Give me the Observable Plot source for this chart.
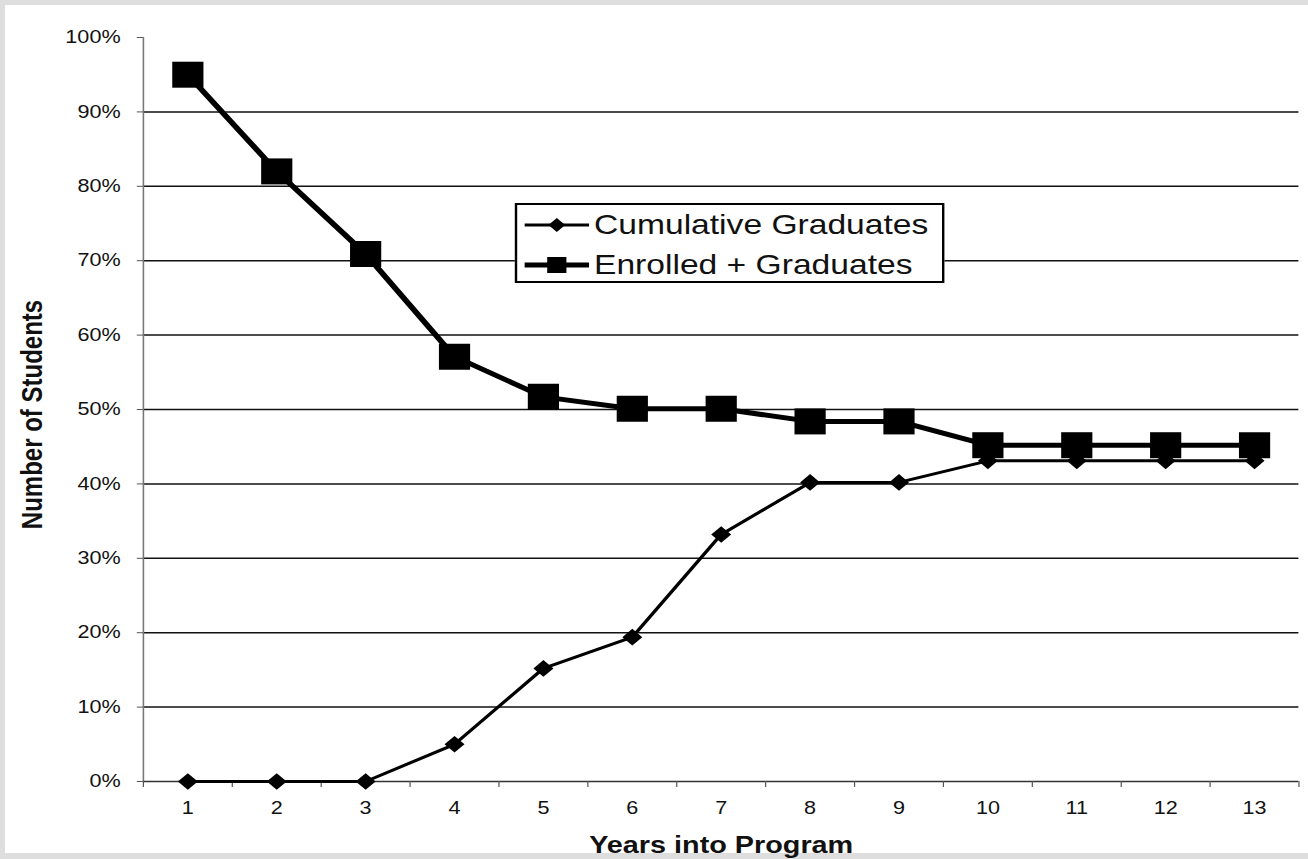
<!DOCTYPE html>
<html>
<head>
<meta charset="utf-8">
<script src="https://cdn.jsdelivr.net/npm/d3@7"></script>
<script src="https://cdn.jsdelivr.net/npm/@observablehq/plot@0.6"></script>
<style>
  html, body { margin: 0; padding: 0; }
  body { width: 1308px; height: 859px; background: #dedede; position: relative; overflow: hidden;
         font-family: "Liberation Sans", Arial, Helvetica, sans-serif; }
  #paper { position: absolute; left: 5px; top: 5px; right: 0; bottom: 6px; background: #fff; }
  #stage { position: absolute; left: 0; top: 0; width: 1090px; height: 859px;
           transform: scaleX(1.2); transform-origin: 0 0; }
  #stage > svg { position: absolute; left: 0; top: 0; }
  #legend { position: absolute; left: 429px; top: 203px; width: 354px; height: 76px;
            border: 2px solid #000; background: #fff; }
  #legend .row { position: absolute; left: 0; height: 40px; display: flex; align-items: center; }
  #legend .row svg { position: static; margin-left: 6px; flex: none; }
  #legend .row span { font-size: 28px; color: #111; margin-left: 4px; white-space: nowrap; line-height: 1; }
</style>
</head>
<body>
<div id="paper"></div>
<div id="stage">
  <div id="legend"></div>
</div>
<script>
// ---- data ----
const years = [1, 2, 3, 4, 5, 6, 7, 8, 9, 10, 11, 12, 13];
const cumulativeGraduates = [0, 0, 0, 5, 15.2, 19.4, 33.2, 40.2, 40.2, 43.1, 43.1, 43.1, 43.1];
const enrolledPlusGraduates = [95, 82, 70.9, 57.1, 51.7, 50.1, 50.1, 48.4, 48.4, 45.2, 45.2, 45.2, 45.2];
const yTickValues = [0, 10, 20, 30, 40, 50, 60, 70, 80, 90, 100];
const seriesNames = ["Cumulative Graduates", "Enrolled + Graduates"];
const xTitle = "Years into Program";
const yTitle = "Number of Students";

const cumData = years.map((y, i) => ({year: y, value: cumulativeGraduates[i]}));
const enrData = years.map((y, i) => ({year: y, value: enrolledPlusGraduates[i]}));
const gridValues = yTickValues.filter(v => v > 0 && v < 100);
const xMin = years[0] - 0.5, xMax = years[years.length - 1] + 0.5;
const boundaries = years.map(y => y - 0.5).concat([xMax]);

const chart = Plot.plot({
  width: 1090,
  height: 859,
  marginLeft: 119,
  marginRight: 8,
  marginTop: 37,
  marginBottom: 78,
  x: {domain: [xMin, xMax]},
  y: {domain: [0, 100]},
  style: {background: "transparent", fontFamily: "'Liberation Sans', Arial, sans-serif", fontSize: "18px", color: "#111"},
  marks: [
    Plot.ruleY(gridValues, {x1: xMin, x2: xMax, stroke: "#111", strokeWidth: 1.5}),
    Plot.ruleX([xMin], {y1: 0, y2: 100, stroke: "#777", strokeWidth: 1.3}),
    Plot.ruleY([0], {x1: xMin, x2: xMax, stroke: "#333", strokeWidth: 1.6}),
    Plot.axisY({ticks: yTickValues, tickFormat: d => d + "%", tickSize: 5, tickPadding: 14, label: null, stroke: "#555", fontSize: 18}),
    Plot.axisX({ticks: boundaries, tickFormat: () => "", tickSize: 6, label: null, stroke: "#555"}),
    Plot.axisX({ticks: years, tickSize: 0, tickPadding: 20, label: null, fontSize: 18}),
    Plot.line(cumData, {x: "year", y: "value", stroke: "#000", strokeWidth: 3}),
    Plot.dot(cumData, {x: "year", y: "value", symbol: "diamond2", r: 7.5, fill: "#000", stroke: "none"}),
    Plot.line(enrData, {x: "year", y: "value", stroke: "#000", strokeWidth: 5}),
    Plot.dot(enrData, {x: "year", y: "value", symbol: "square", r: 14.67, fill: "#000", stroke: "none"}),
    Plot.text([yTitle], {text: d => d, frameAnchor: "left", textAnchor: "middle", dx: -92, dy: 5, rotate: -90, fontSize: 24, fontWeight: "bold", fill: "#111"}),
    Plot.text([xTitle], {text: d => d, frameAnchor: "bottom", textAnchor: "middle", dy: 71, fontSize: 24, fontWeight: "bold", fill: "#111"})
  ]
});
document.getElementById("stage").insertBefore(chart, document.getElementById("legend"));

// ---- legend ----
const legend = document.getElementById("legend");
seriesNames.forEach((name, i) => {
  const row = document.createElement("div");
  row.className = "row";
  row.style.top = (i * 40) + "px";
  const ns = "http://www.w3.org/2000/svg";
  const s = document.createElementNS(ns, "svg");
  s.setAttribute("width", 54); s.setAttribute("height", 20);
  const ln = document.createElementNS(ns, "line");
  ln.setAttribute("x1", 0); ln.setAttribute("x2", 54); ln.setAttribute("y1", 10); ln.setAttribute("y2", 10);
  ln.setAttribute("stroke", "#000"); ln.setAttribute("stroke-width", i === 0 ? 3 : 5);
  s.appendChild(ln);
  const mk = document.createElementNS(ns, "path");
  mk.setAttribute("d", i === 0 ? "M27,3L34,10L27,17L20,10Z" : "M19,2H35V18H19Z");
  mk.setAttribute("fill", "#000");
  s.appendChild(mk);
  row.appendChild(s);
  const sp = document.createElement("span");
  sp.textContent = name;
  row.appendChild(sp);
  legend.appendChild(row);
});
</script>
</body>
</html>
